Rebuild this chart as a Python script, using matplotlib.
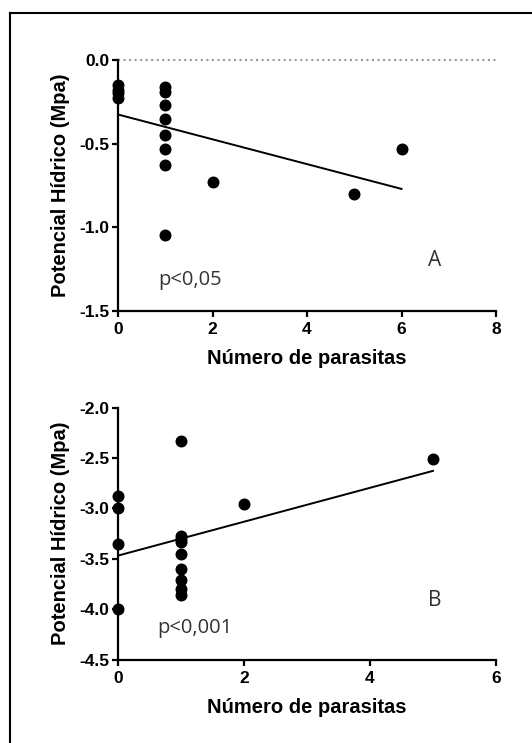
import numpy as np
import matplotlib
matplotlib.use("Agg")
import matplotlib.pyplot as plt
from matplotlib.lines import Line2D

# Painel A
xa = [0, 0, 0, 0, 1, 1, 1, 1, 1, 1, 1, 1, 2, 5, 6]
ya = [-0.15, -0.18, -0.20, -0.23,
      -0.16, -0.19, -0.27, -0.355, -0.45, -0.53, -0.63, -1.05,
      -0.73, -0.80, -0.53]

# Painel B
xb = [0, 0, 0, 0, 1, 1, 1, 1, 1, 1, 1, 1, 1, 2, 5]
yb = [-2.88, -3.00, -3.35, -4.00,
      -2.33, -3.27, -3.30, -3.33, -3.45, -3.60, -3.71, -3.80, -3.86,
      -2.96, -2.51]

xlabel = "Número de parasitas"
ylabel = "Potencial Hídrico (Mpa)"

plt.rcParams['font.family'] = ['Liberation Sans', 'DejaVu Sans']

W, H = 532, 743
fig = plt.figure(figsize=(W / 100, H / 100), dpi=100)

# moldura (so a esquerda e o topo aparecem)
fig.add_artist(Line2D([10/W, 10/W], [0, 1 - 13/H], transform=fig.transFigure,
                      color='black', lw=1.5))
fig.add_artist(Line2D([10/W, 1], [1 - 13/H, 1 - 13/H], transform=fig.transFigure,
                      color='black', lw=1.5))


def painel(ax, x, y, xlim, ylim, yticks, xticks, pval, letra, ppos, lpos):
    ax.scatter(x, y, s=58, color='black', zorder=3, clip_on=False)
    a, b = np.polyfit(x, y, 1)
    xx = np.array([0, max(x)])
    ax.plot(xx, a * xx + b, color='black', lw=1.4)
    ax.set_xlim(*xlim)
    ax.set_ylim(*ylim)
    ax.set_xticks(xticks)
    ax.set_yticks(yticks)
    ax.set_yticklabels([f"{t:.1f}" for t in yticks])
    for s in ['top', 'right']:
        ax.spines[s].set_visible(False)
    for s in ['left', 'bottom']:
        ax.spines[s].set_linewidth(1.6)
    ax.tick_params(width=1.6, length=4.5, labelsize=12.5)
    ax.tick_params(axis='x', pad=4)
    ax.tick_params(axis='y', pad=1.5)
    for lab in ax.get_xticklabels() + ax.get_yticklabels():
        lab.set_fontweight('bold')
    h = ax.get_position().height * H
    ax.set_xlabel(xlabel, fontsize=14.5, fontweight='bold', va='center')
    ax.xaxis.set_label_coords(0.5, -48 / h)
    ax.set_ylabel(ylabel, fontsize=14.5, fontweight='bold', va='center')
    ax.yaxis.set_label_coords(-58 / 378, 0.5)
    ax.text(ppos[0], ppos[1], pval, fontsize=14.5, family='Open Sans', color='#333333',
            va='baseline', ha='left')
    ax.text(lpos[0], lpos[1], letra, fontsize=15, family='Open Sans', color='#333333',
            va='center', ha='center')


axA = fig.add_axes([118/W, 1 - 310.5/H, 378/W, 250.5/H])
axA.plot([0, 8], [0, 0], color='#999999', ls=':', lw=1.5, clip_on=False)
painel(axA, xa, ya, (0, 8), (-1.5, 0), [-1.5, -1.0, -0.5, 0.0], [0, 2, 4, 6, 8],
       "p<0,05", "A", (0.85, -1.35), (6.71, -1.2))

axB = fig.add_axes([118/W, 1 - 659.5/H, 378/W, 252/H])
painel(axB, xb, yb, (0, 6), (-4.5, -2.0), [-4.5, -4.0, -3.5, -3.0, -2.5, -2.0],
       [0, 2, 4, 6], "p<0,001", "B", (0.63, -4.24), (5.02, -3.91))

fig.savefig("out.png", dpi=100)
